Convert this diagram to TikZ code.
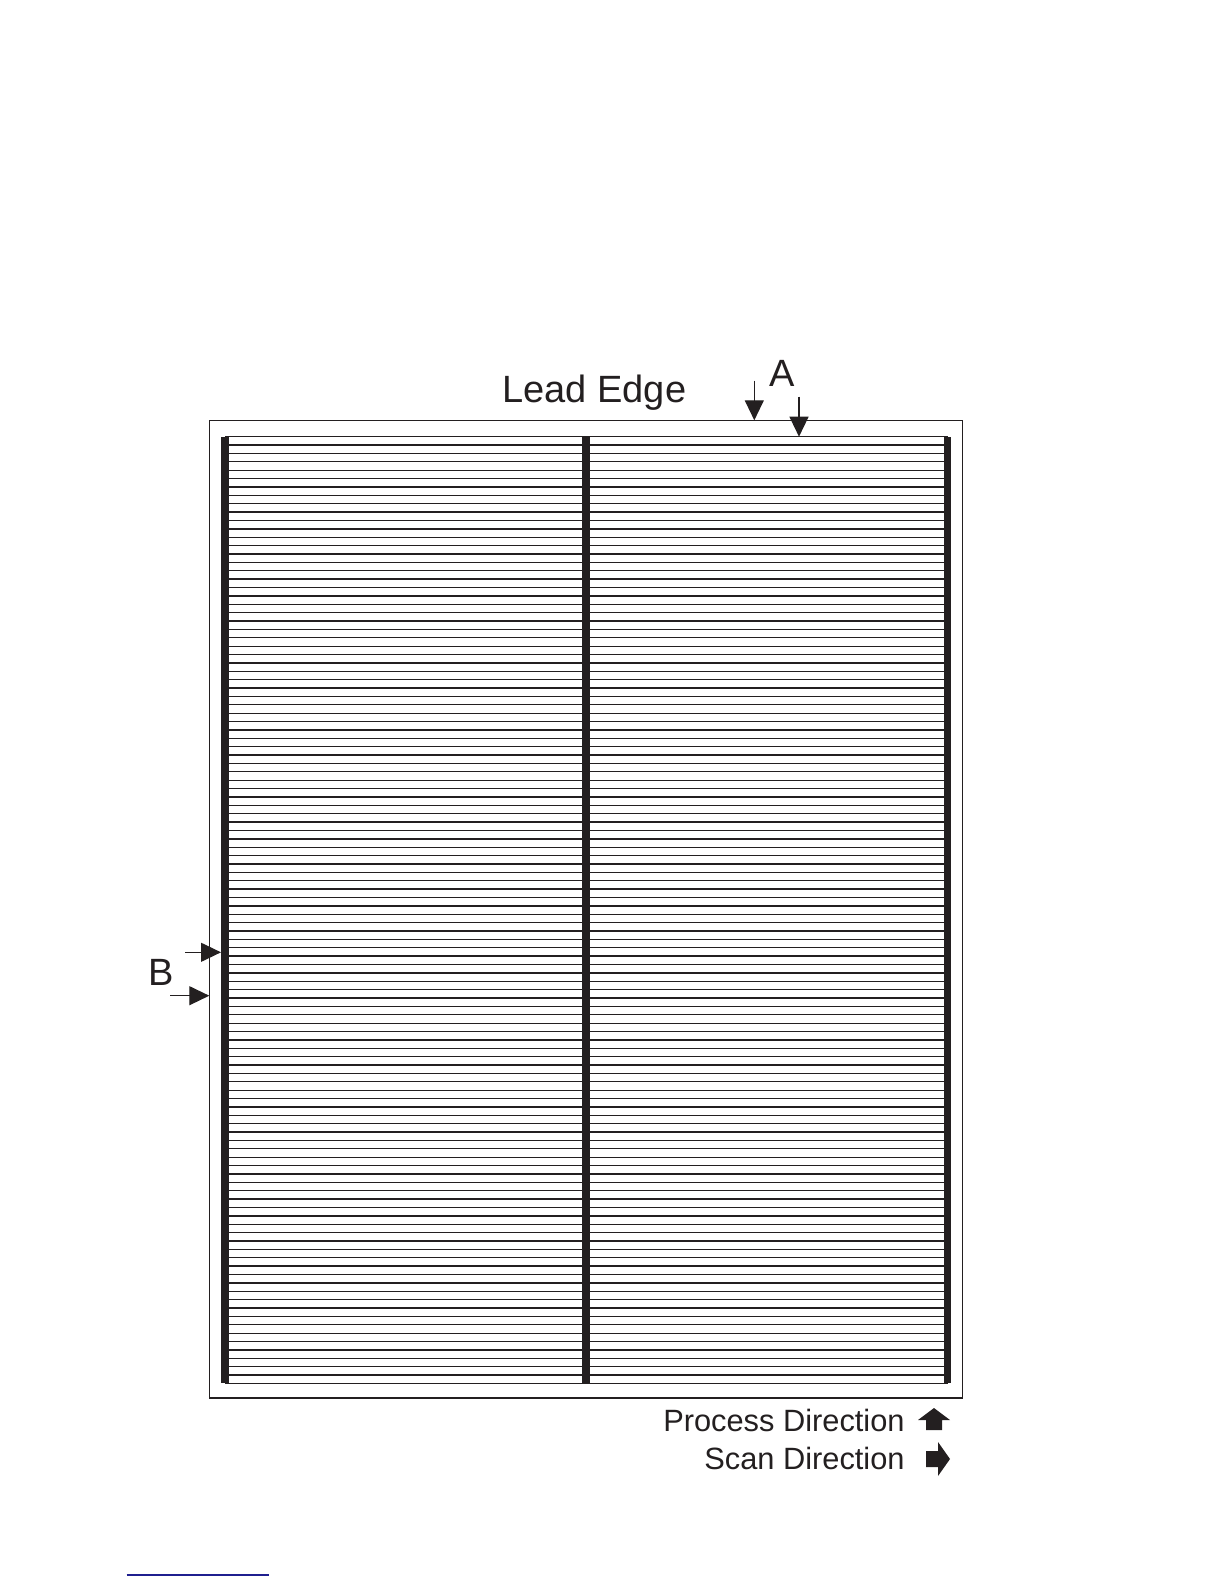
\documentclass[tikz,border=0pt]{standalone}
\usepackage{fontspec}
\setmainfont{Liberation Sans}
\usetikzlibrary{arrows.meta}
\definecolor{ink}{HTML}{231F20}
\definecolor{rulecol}{HTML}{1F1F8F}
\begin{document}
\begin{tikzpicture}[x=0.5pt,y=-0.5pt,
  sheet/.style={draw=ink,line width=0.65pt},
  hatch/.style={draw=ink,line width=0.65pt},
  bar/.style={fill=ink},
  pointer/.style={draw=ink,line width=0.6pt,-{Triangle[width=9.5pt,length=10pt]}},
  lbl/.style={inner sep=0pt,text=ink}]
\useasboundingbox (0,0) rectangle (1224,1584);

% sheet
\coordinate (s1) at (209.3,420.3);
\coordinate (s2) at (962.3,1398);
\path[sheet] (s1) rectangle (s2);

% scan lines
\foreach \i in {0,...,113}
  \path[hatch] ({225},{436.7+8.378*\i}) -- ({948},{436.7+8.378*\i});

% bars
\path[bar] (221,436.7) rectangle (229,1383);
\path[bar] (582,436.7) rectangle (589.5,1383);
\path[bar] (944,436.7) rectangle (951,1383);

% labels
\node[lbl,font=\fontsize{19}{22}\selectfont,anchor=base west] (lead) at (502,402) {Lead Edge};
\node[lbl,font=\fontsize{19}{22}\selectfont,anchor=base west] (A) at (769,386) {A};
\node[lbl,font=\fontsize{19}{22}\selectfont,anchor=base west] (B) at (148,985) {B};
\node[lbl,font=\fontsize{15.4}{18}\selectfont,anchor=base east] (proc) at (905,1431) {Process Direction};
\node[lbl,font=\fontsize{15.4}{18}\selectfont,anchor=base east] (scan) at (905,1469) {Scan Direction};

% A arrows
\coordinate (a1) at (754.3,380.7);
\coordinate (a1tip) at (754.3,420.3);
\coordinate (a2) at (799,396.7);
\coordinate (a2tip) at (799,436.7);
\path[pointer] (a1) -- (a1tip);
\path[pointer] (a2) -- (a2tip);

% B arrows
\coordinate (b1) at (185,952.3);
\coordinate (b1tip) at (221,952.3);
\coordinate (b2) at (170,995.7);
\coordinate (b2tip) at (209.3,995.7);
\path[pointer] (b1) -- (b1tip);
\path[pointer] (b2) -- (b2tip);

% direction marks
\fill[ink] (918,1420) -- (934,1408) -- (950,1420) -- (942,1420)
  -- (942,1430) -- (926,1430) -- (926,1420) -- cycle;
\fill[ink] (926,1451) -- (938,1451) -- (938,1442) -- (950,1459)
  -- (938,1476) -- (938,1467) -- (926,1467) -- cycle;

% footnote rule
\path[draw=rulecol,line width=0.8pt] (126.7,1575) -- (269,1575);
\end{tikzpicture}
\end{document}
